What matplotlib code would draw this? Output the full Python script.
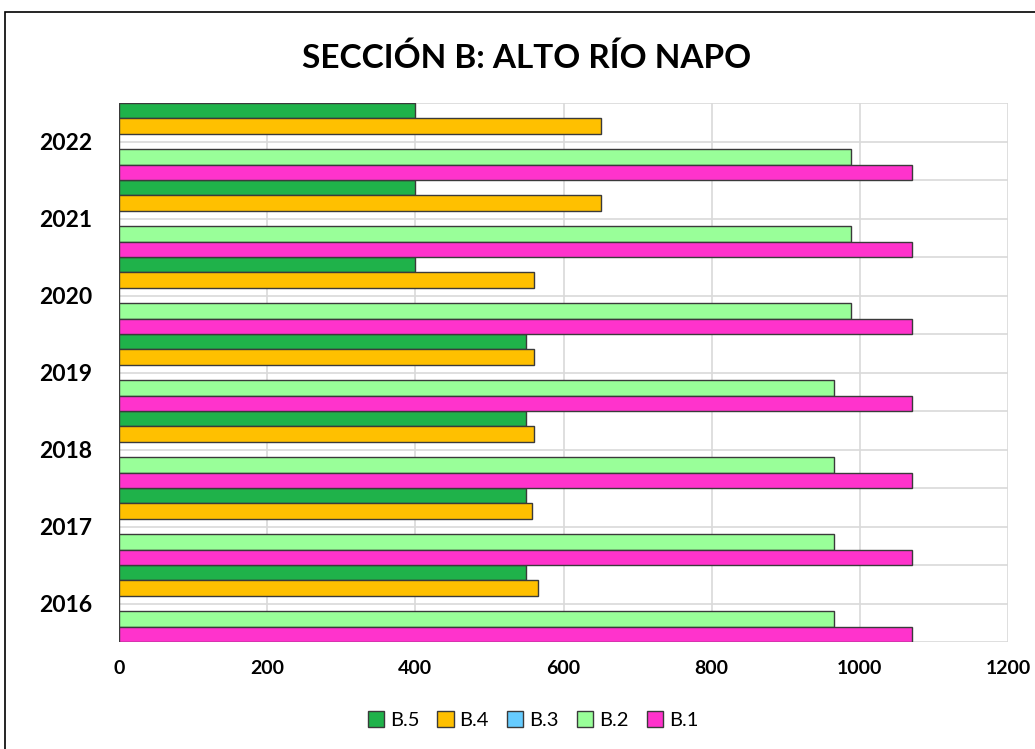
import numpy as np
import matplotlib
matplotlib.use("Agg")
import matplotlib.pyplot as plt
from matplotlib.patches import Rectangle

years = ["2016", "2017", "2018", "2019", "2020", "2021", "2022"]
series = ["B.5", "B.4", "B.3", "B.2", "B.1"]
b5 = [550, 550, 550, 550, 400, 400, 400]
b4 = [565, 558, 560, 560, 560, 650, 650]
b3 = [0, 0, 0, 0, 0, 0, 0]
b2 = [965, 965, 965, 965, 988, 988, 988]
b1 = [1070, 1070, 1070, 1070, 1070, 1070, 1070]
colors = ["#1fb24a", "#ffc000", "#66ccff", "#99ff99", "#ff33cc"]

plt.rcParams['font.family'] = ['Lato', 'DejaVu Sans']

fig = plt.figure(figsize=(10.35, 7.49), dpi=100)
ax = fig.add_axes([119/1035, 1 - 642/749, (1008 - 119)/1035, (642 - 103)/749])

y = np.arange(len(years))
h = 0.2
offsets = [0.4, 0.2, 0.0, -0.2, -0.4]
for vals, name, col, off in zip([b5, b4, b3, b2, b1], series, colors, offsets):
    ax.barh(y + off, vals, height=h, color=col, edgecolor="#3a3a3a",
            linewidth=1, label=name, zorder=3)

ax.set_xlim(0, 1200)
ax.set_ylim(-0.5, len(years) - 0.5)
ax.set_xticks(np.arange(0, 1201, 200))
ax.set_yticks(y)
ax.set_yticklabels(years)
ax.set_yticks(np.arange(-0.5, len(years), 1), minor=True)
ax.grid(True, which="both", color="#d9d9d9", linewidth=1.2, zorder=0)
ax.tick_params(which="both", length=0)
ax.tick_params(axis="x", pad=13)
ax.tick_params(axis="y", pad=19)
for lab in ax.get_xticklabels():
    lab.set_fontsize(14)
    lab.set_fontweight("bold")
for lab in ax.get_yticklabels():
    lab.set_fontsize(16.5)
    lab.set_fontweight("bold")
for s in ax.spines.values():
    s.set_visible(False)

fig.text(527/1035, 1 - 58/749, "SECCIÓN B: ALTO RÍO NAPO", ha="center", va="center",
         fontsize=24, fontweight="bold")

ax.legend(loc="center", bbox_to_anchor=(533/1035, 1 - 720/749),
          bbox_transform=fig.transFigure, ncol=5, frameon=False, fontsize=14.5,
          handlelength=0.8, handleheight=0.8, handletextpad=0.3, columnspacing=0.9)

fig.patches.append(Rectangle((5/1035, -0.1), 1.2, 1 - 12/749 + 0.1,
                             transform=fig.transFigure, fill=False,
                             edgecolor="black", linewidth=1.2))

fig.savefig("out.png", dpi=100)
